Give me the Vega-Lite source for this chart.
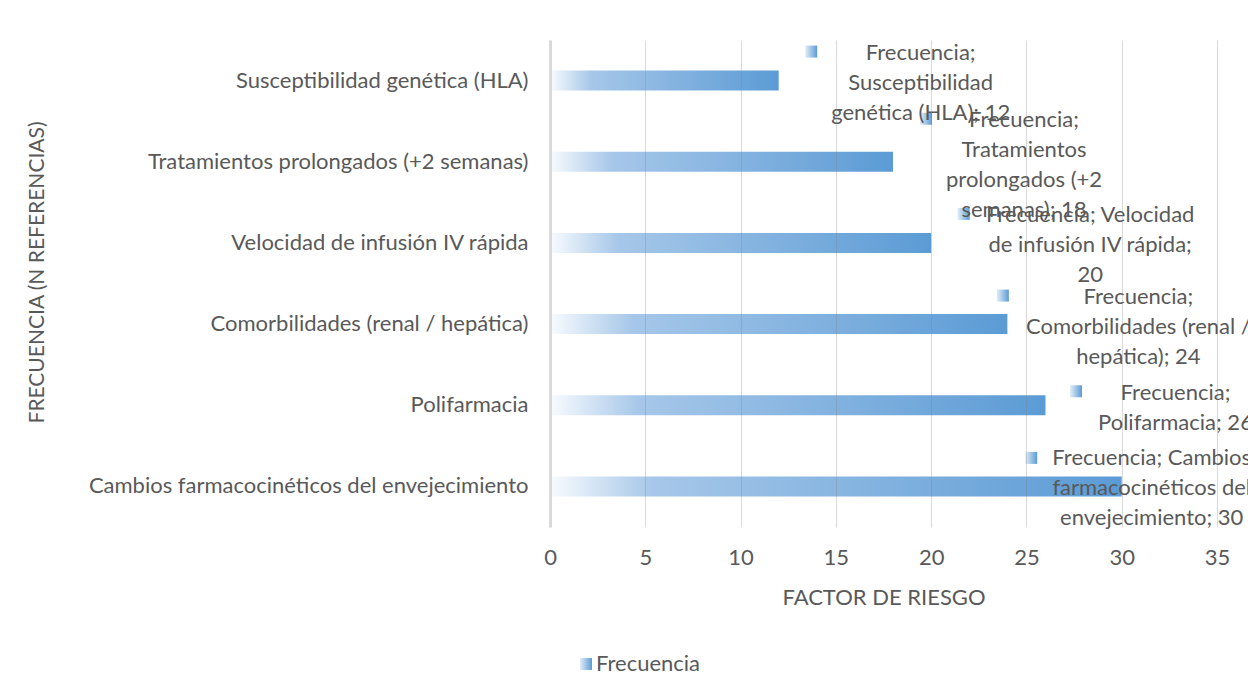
{
  "$schema": "https://vega.github.io/schema/vega-lite/v6.json",
  "width": 667,
  "height": 487,
  "autosize": {"type": "none"},
  "padding": {"left": 550, "top": 40, "right": 31, "bottom": 169},
  "background": "#FFFFFF",
  "config": {"view": {"stroke": null}, "font": "Lato"},
  "data": {
    "values": [
      {"factor": "Susceptibilidad genética (HLA)", "frecuencia": 12, "etiqueta": "Frecuencia;\nSusceptibilidad\ngenética (HLA); 12"},
      {"factor": "Tratamientos prolongados (+2 semanas)", "frecuencia": 18, "etiqueta": "Frecuencia;\nTratamientos\nprolongados (+2\nsemanas); 18"},
      {"factor": "Velocidad de infusión IV rápida", "frecuencia": 20, "etiqueta": "Frecuencia; Velocidad\nde infusión IV rápida;\n20"},
      {"factor": "Comorbilidades (renal / hepática)", "frecuencia": 24, "etiqueta": "Frecuencia;\nComorbilidades (renal /\nhepática); 24"},
      {"factor": "Polifarmacia", "frecuencia": 26, "etiqueta": "Frecuencia;\nPolifarmacia; 26"},
      {"factor": "Cambios farmacocinéticos del envejecimiento", "frecuencia": 30, "etiqueta": "Frecuencia; Cambios\nfarmacocinéticos del\nenvejecimiento; 30"}
    ]
  },
  "encoding": {
    "y": {
      "field": "factor", "type": "nominal", "sort": null,
      "scale": {"paddingInner": 0.754, "paddingOuter": 0.377},
      "axis": {
        "title": "FRECUENCIA (N REFERENCIAS)",
        "titleX": -513, "titleY": 232, "titleBaseline": "middle", "titleAngle": -90,
        "titleFontSize": 21, "titleFontWeight": "normal", "titleColor": "#595959", "titleFont": "Lato",
        "labelFontSize": 22, "labelColor": "#595959", "labelFont": "Lato", "labelPadding": 22, "labelLimit": 700,
        "ticks": false, "tickSize": 0, "domainColor": "#D9D9D9", "domainWidth": 3, "grid": false, "zindex": 1
      }
    },
    "x": {
      "field": "frecuencia", "type": "quantitative",
      "scale": {"domain": [0, 35], "nice": false},
      "axis": {
        "title": "FACTOR DE RIESGO", "values": [0, 5, 10, 15, 20, 25, 30, 35],
        "grid": true, "gridColor": "#808080", "gridOpacity": 0.3, "gridWidth": 1,
        "domain": false, "ticks": false, "tickSize": 0,
        "labelPadding": 30, "labelBaseline": "middle", "labelFontSize": 22, "labelColor": "#595959", "labelFont": "Lato",
        "labelFlush": false, "labelOverlap": false,
        "titleFontSize": 22, "titleFontWeight": "normal", "titleColor": "#595959", "titleFont": "Lato",
        "titleY": 70, "titleBaseline": "middle", "zindex": 1
      }
    }
  },
  "layer": [
    {
      "mark": {
        "type": "bar",
        "fill": {"gradient": "linear", "x1": 0, "y1": 0, "x2": 1, "y2": 0,
          "stops": [{"offset": 0, "color": "#F8FBFE"}, {"offset": 0.18, "color": "#A6C7E9"}, {"offset": 1, "color": "#5B9BD5"}]},
        "strokeWidth": 0
      }
    },
    {
      "transform": [{"filter": {"field": "factor", "oneOf": ["Susceptibilidad genética (HLA)", "Velocidad de infusión IV rápida"]}}],
      "mark": {
        "type": "point", "shape": "square", "filled": true, "size": 144, "opacity": 1, "strokeWidth": 0,
        "fill": {"gradient": "linear", "x1": 0, "y1": 0, "x2": 1, "y2": 0,
          "stops": [{"offset": 0, "color": "#E3EEF8"}, {"offset": 1, "color": "#5B9BD5"}]},
        "xOffset": 32.5, "yOffset": -29
      },
      "encoding": {
        "shape": {
          "datum": "Frecuencia", "type": "nominal", "scale": {"range": ["square"]},
          "legend": {
            "title": null, "orient": "none", "legendX": 25, "legendY": 613, "padding": 0,
            "symbolSize": 144, "symbolStrokeWidth": 0, "symbolFillColor": "#5B9BD5",
            "labelFontSize": 22, "labelColor": "#595959", "labelFont": "Lato", "labelOffset": -1,
            "encode": {"symbols": {"update": {"fill": {"value": {"gradient": "linear", "x1": 0, "y1": 0, "x2": 1, "y2": 0,
              "stops": [{"offset": 0, "color": "#E3EEF8"}, {"offset": 1, "color": "#5B9BD5"}]}}, "stroke": {"value": "transparent"}}}}
          }
        }
      }
    },
    {
      "transform": [{"filter": {"field": "factor", "equal": "Tratamientos prolongados (+2 semanas)"}}],
      "mark": {
        "type": "point", "shape": "square", "filled": true, "size": 144, "opacity": 1, "strokeWidth": 0,
        "fill": {"gradient": "linear", "x1": 0, "y1": 0, "x2": 1, "y2": 0,
          "stops": [{"offset": 0, "color": "#E3EEF8"}, {"offset": 1, "color": "#5B9BD5"}]},
        "xOffset": 33, "yOffset": -43
      }
    },
    {
      "transform": [{"filter": {"field": "factor", "equal": "Polifarmacia"}}],
      "mark": {
        "type": "point", "shape": "square", "filled": true, "size": 144, "opacity": 1, "strokeWidth": 0,
        "fill": {"gradient": "linear", "x1": 0, "y1": 0, "x2": 1, "y2": 0,
          "stops": [{"offset": 0, "color": "#E3EEF8"}, {"offset": 1, "color": "#5B9BD5"}]},
        "xOffset": 30.5, "yOffset": -14
      }
    },
    {
      "transform": [{"filter": {"field": "factor", "equal": "Comorbilidades (renal / hepática)"}}],
      "mark": {
        "type": "point", "shape": "square", "filled": true, "size": 144, "opacity": 1, "strokeWidth": 0,
        "fill": {"gradient": "linear", "x1": 0, "y1": 0, "x2": 1, "y2": 0,
          "stops": [{"offset": 0, "color": "#E3EEF8"}, {"offset": 1, "color": "#5B9BD5"}]},
        "xOffset": -4.5, "yOffset": -28.5
      }
    },
    {
      "transform": [{"filter": {"field": "factor", "equal": "Cambios farmacocinéticos del envejecimiento"}}],
      "mark": {
        "type": "point", "shape": "square", "filled": true, "size": 144, "opacity": 1, "strokeWidth": 0,
        "fill": {"gradient": "linear", "x1": 0, "y1": 0, "x2": 1, "y2": 0,
          "stops": [{"offset": 0, "color": "#E3EEF8"}, {"offset": 1, "color": "#5B9BD5"}]},
        "xOffset": -90.5, "yOffset": -28.5
      }
    },
    {
      "transform": [{"filter": {"field": "factor", "equal": "Susceptibilidad genética (HLA)"}}],
      "mark": {"type": "text", "align": "center", "baseline": "middle", "lineBreak": "\n", "lineHeight": 30, "fontSize": 22, "font": "Lato", "color": "#595959", "dx": 142, "dy": -28},
      "encoding": {"text": {"field": "etiqueta", "type": "nominal"}}
    },
    {
      "transform": [{"filter": {"field": "factor", "equal": "Tratamientos prolongados (+2 semanas)"}}],
      "mark": {"type": "text", "align": "center", "baseline": "middle", "lineBreak": "\n", "lineHeight": 30, "fontSize": 22, "font": "Lato", "color": "#595959", "dx": 131, "dy": -42},
      "encoding": {"text": {"field": "etiqueta", "type": "nominal"}}
    },
    {
      "transform": [{"filter": {"field": "factor", "equal": "Velocidad de infusión IV rápida"}}],
      "mark": {"type": "text", "align": "center", "baseline": "middle", "lineBreak": "\n", "lineHeight": 30, "fontSize": 22, "font": "Lato", "color": "#595959", "dx": 159, "dy": -28},
      "encoding": {"text": {"field": "etiqueta", "type": "nominal"}}
    },
    {
      "transform": [{"filter": {"field": "factor", "equal": "Comorbilidades (renal / hepática)"}}],
      "mark": {"type": "text", "align": "center", "baseline": "middle", "lineBreak": "\n", "lineHeight": 30, "fontSize": 22, "font": "Lato", "color": "#595959", "dx": 131, "dy": -27},
      "encoding": {"text": {"field": "etiqueta", "type": "nominal"}}
    },
    {
      "transform": [{"filter": {"field": "factor", "equal": "Polifarmacia"}}],
      "mark": {"type": "text", "align": "center", "baseline": "middle", "lineBreak": "\n", "lineHeight": 30, "fontSize": 22, "font": "Lato", "color": "#595959", "dx": 130, "dy": -12},
      "encoding": {"text": {"field": "etiqueta", "type": "nominal"}}
    },
    {
      "transform": [{"filter": {"field": "factor", "equal": "Cambios farmacocinéticos del envejecimiento"}}],
      "mark": {"type": "text", "align": "center", "baseline": "middle", "lineBreak": "\n", "lineHeight": 30, "fontSize": 22, "font": "Lato", "color": "#595959", "dx": 30, "dy": -28},
      "encoding": {"text": {"field": "etiqueta", "type": "nominal"}}
    }
  ]
}
